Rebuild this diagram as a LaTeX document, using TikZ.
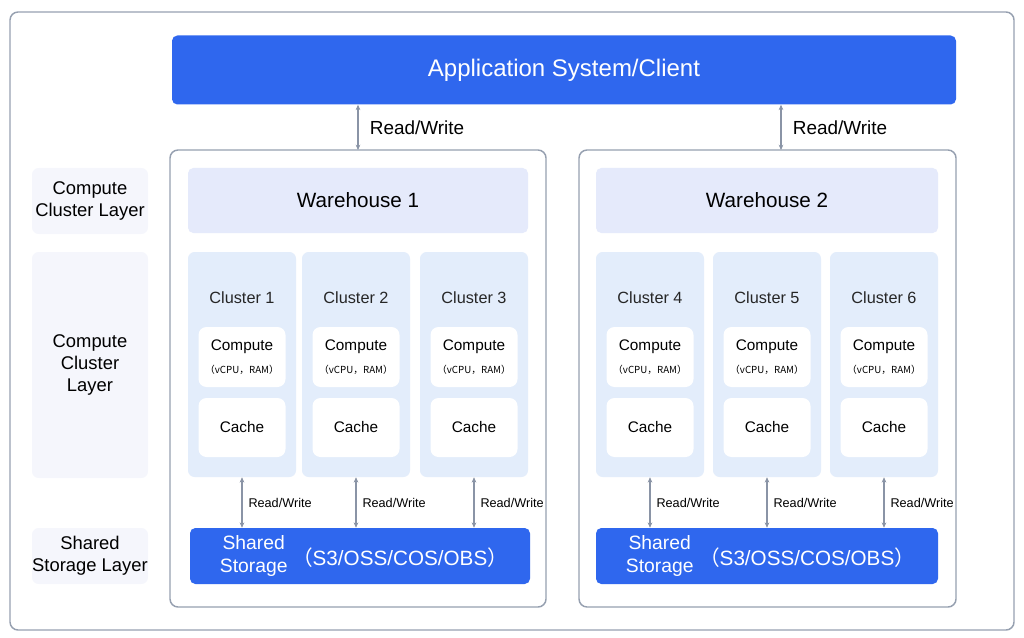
\documentclass[tikz,border=0pt]{standalone}
\usepackage{fontspec}
\setmainfont{Liberation Sans}
\newfontfamily\cjk{Noto Sans CJK SC}
\usepackage{xcolor}
\usetikzlibrary{arrows.meta, positioning, calc}
\definecolor{appblue}{RGB}{47, 103, 238}
\definecolor{framegray}{RGB}{150, 160, 176}
\definecolor{arrowgray}{RGB}{138, 148, 166}
\definecolor{whfill}{RGB}{229, 234, 251}
\definecolor{clfill}{RGB}{227, 237, 251}
\definecolor{sidefill}{RGB}{245, 246, 252}

\begin{document}
\begin{tikzpicture}[x=0.75pt, y=-0.75pt,
    dim/.style 2 args={minimum width=#1*0.75pt, minimum height=#2*0.75pt, inner sep=0pt},
    frame/.style={draw=framegray, line width=1.1pt, rounded corners=6pt, fill=white},
    bluebox/.style={fill=appblue, rounded corners=4pt, text=white},
    whbox/.style={fill=whfill, rounded corners=4pt, font=\fontsize{15.5}{18}\selectfont},
    clbox/.style={fill=clfill, rounded corners=5pt},
    cellbox/.style={fill=white, rounded corners=6pt, align=center},
    sidebox/.style={fill=sidefill, rounded corners=5pt, align=center,
      font=\fontsize{13.8}{16.5}\selectfont},
    rw/.style={draw=arrowgray, line width=1.1pt, {Stealth[length=4pt,width=3.5pt]}-{Stealth[length=4pt,width=3.5pt]}}]
  \useasboundingbox (0,0) rectangle (1024,638);
  % Outer frame
  \draw[framegray, line width=1.1pt, rounded corners=6pt] (10,12) rectangle (1014,630);
  % Application
  \node[bluebox, dim={784}{69}, font=\fontsize{18}{21}\selectfont] (app) at (564,70) {Application System/Client};
  % Warehouse frames
  \draw[frame] (170,150) rectangle (546,607);
  \draw[frame] (579,150) rectangle (956,607);
  \coordinate (wf1) at (358,150);
  \coordinate (wf2) at (781,150);
  \draw[rw] (app.south -| wf1) -- (wf1) node[midway, right=5pt, font=\fontsize{14.2}{16}\selectfont] {Read/Write};
  \draw[rw] (app.south -| wf2) -- (wf2) node[midway, right=5pt, font=\fontsize{14.2}{16}\selectfont] {Read/Write};
  % Warehouses
  \node[whbox, dim={340}{65}] (wh1) at (358,200.5) {Warehouse 1};
  \node[whbox, dim={342}{65}] (wh2) at (767,200.5) {Warehouse 2};
  % Shared storage
  \foreach \s/\x/\w in {1/360/340, 2/767/342} {
    \node[bluebox, dim={\w}{56}] (st\s) at (\x,556) {};
    \node[text=white, align=center, font=\fontsize{14.5}{17.5}\selectfont] at ($(st\s.west)+(64*0.75pt,0)$) {Shared\\Storage};
    \node[text=white, font=\fontsize{15.5}{18}\selectfont] at ($(st\s.center)+(40*0.75pt,-2*0.75pt)$)
      {{\cjk （}S3/OSS/COS/OBS{\cjk ）}};
  }
  % Clusters
  \foreach \i/\x/\s in {1/242/1, 2/356/1, 3/474/1, 4/650/2, 5/767/2, 6/884/2} {
    \node[clbox, dim={108}{225}] (cl\i) at (\x,364.5) {};
    \node[font=\fontsize{12.2}{14}\selectfont, text=black!85] at (\x,298) {Cluster \i};
    \node[cellbox, dim={87}{60}] (cmp\i) at (\x,357)
      {\fontsize{11.5}{13}\selectfont Compute\\[5pt]{\cjk\fontsize{7.3}{8}\selectfont （vCPU，RAM）}};
    \node[cellbox, dim={87}{59}, font=\fontsize{11.5}{13}\selectfont] (cache\i) at (\x,427.5) {Cache};
    \draw[rw] (cl\i.south) -- (cl\i.south |- st\s.north)
      node[midway, right=1pt, font=\fontsize{9.5}{11}\selectfont] {Read/Write};
  }
  % Layer labels
  \node[sidebox, dim={116}{66}] (lay1) at (90,201) {Compute\\Cluster Layer};
  \node[sidebox, dim={116}{226}] (lay2) at (90,365) {Compute\\Cluster\\Layer};
  \node[sidebox, dim={116}{56}] (lay3) at (90,556) {Shared\\Storage Layer};
\end{tikzpicture}
\end{document}
